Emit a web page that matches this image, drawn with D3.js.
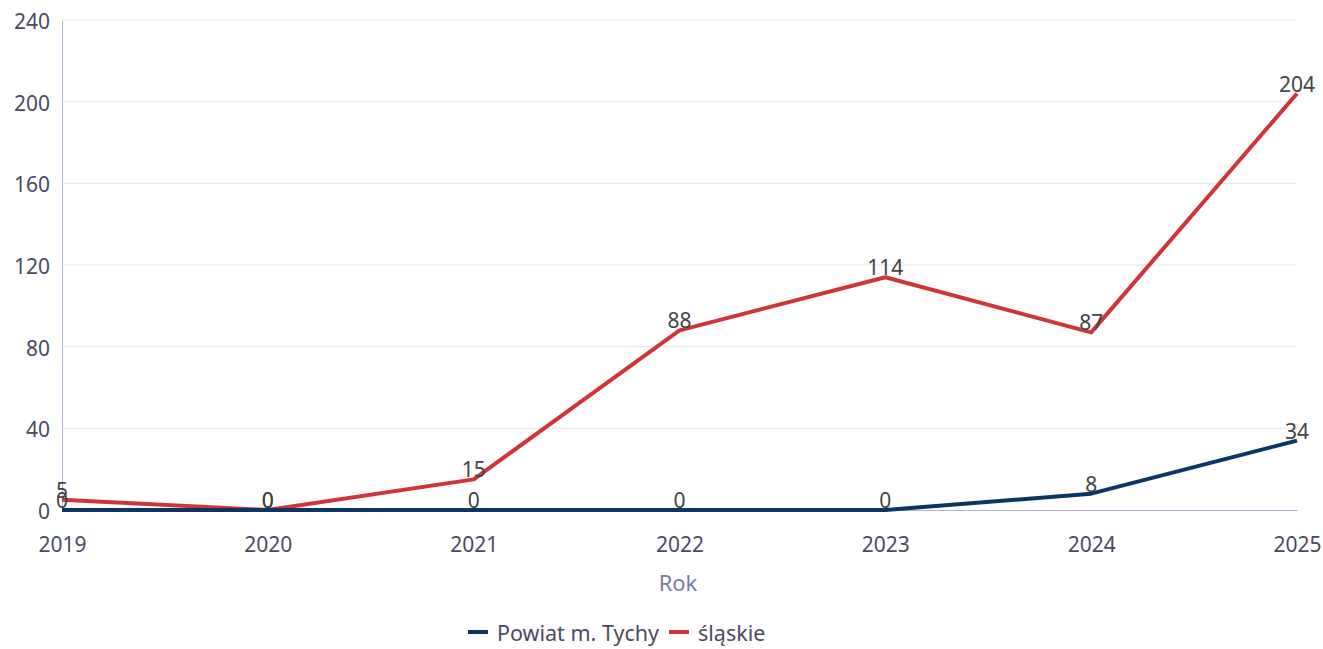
<!DOCTYPE html>
<html><head><meta charset="utf-8">
<script src="https://cdn.jsdelivr.net/npm/d3@7"></script>
<style>body{margin:0;background:#fff;font-family:"Noto Sans",sans-serif;}</style>
</head><body><svg id="c" width="1323" height="649"></svg>
<script>
const years = [2019, 2020, 2021, 2022, 2023, 2024, 2025];
const tychy = [0, 0, 0, 0, 0, 8, 34];
const slaskie = [5, 0, 15, 88, 114, 87, 204];
const yTicks = [0, 40, 80, 120, 160, 200, 240];
const seriesNames = ["Powiat m. Tychy", "śląskie"];
const colors = ["#0b3565", "#d13438"];

const svg = d3.select("#c");
const x = d3.scalePoint().domain(years).range([62, 1297]);
const y = d3.scaleLinear().domain([0, 240]).range([510, 20]);

// grid
svg.append("g").selectAll("line").data(yTicks.slice(1)).join("line")
  .attr("x1", 62).attr("x2", 1297).attr("y1", d => y(d)).attr("y2", d => y(d))
  .attr("stroke", "#e6e6e6").attr("stroke-width", 1);

// y axis
const ya = svg.append("g").attr("transform", "translate(62,0)")
  .call(d3.axisLeft(y).tickValues(yTicks).tickSize(0).tickPadding(12));
ya.select(".domain").attr("stroke", "#b8b3d6");
ya.selectAll("text").attr("font-family", "Noto Sans").attr("font-size", 21).attr("fill", "#4a4a62")
  .attr("dy", "0.4em");

// x axis
const xa = svg.append("g").attr("transform", "translate(0,510)")
  .call(d3.axisBottom(x).tickSize(0).tickPadding(27));
xa.select(".domain").attr("stroke", "#b8b3d6");
xa.selectAll("text").attr("font-family", "Noto Sans").attr("font-size", 21).attr("fill", "#4a4a62");

svg.append("text").attr("x", 678).attr("y", 591).attr("text-anchor", "middle")
  .attr("font-family", "Noto Sans").attr("font-size", 22).attr("fill", "#7c7aa8").text("Rok");

const series = [tychy, slaskie];
const line = d3.line().x((d, i) => x(years[i])).y(d => y(d));
[1, 0].forEach(si => {
  svg.append("path").datum(series[si]).attr("d", line)
    .attr("fill", "none").attr("stroke", colors[si]).attr("stroke-width", 4)
    .attr("stroke-linejoin", "round");
});
[1, 0].forEach(si => {
  svg.append("g").selectAll("text").data(series[si]).join("text")
    .attr("x", (d, i) => x(years[i])).attr("y", d => y(d) - 2)
    .attr("text-anchor", "middle").attr("font-family", "Noto Sans").attr("font-size", 21)
    .attr("fill", "#444").text(d => d);
});

// legend
const lg = svg.append("g");
const items = [{n: seriesNames[0], c: colors[0], x: 468}, {n: seriesNames[1], c: colors[1], x: 669}];
items.forEach(it => {
  lg.append("line").attr("x1", it.x).attr("x2", it.x + 20).attr("y1", 632).attr("y2", 632)
    .attr("stroke", it.c).attr("stroke-width", 4);
  lg.append("text").attr("x", it.x + 29).attr("y", 641).attr("font-family", "Noto Sans")
    .attr("font-size", 21.5).attr("fill", "#4a4a62").text(it.n);
});
</script></body></html>
